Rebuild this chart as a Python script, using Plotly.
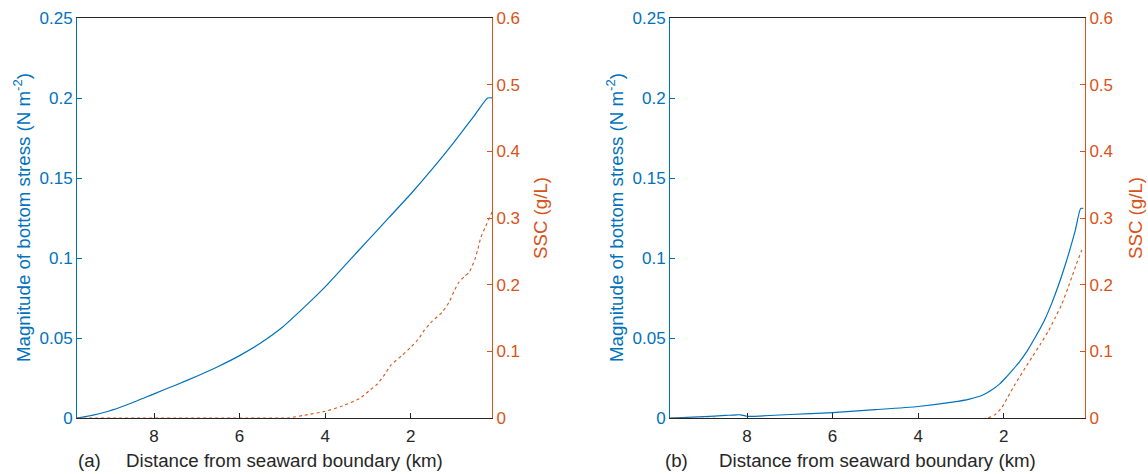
import plotly.graph_objects as go

# ---------------- data ----------------
# Panel (a)
xa_stress = [9.8, 9.45, 9.07, 8.63, 8.0, 7.5, 6.96, 6.5, 6.0, 5.5, 5.0, 4.5, 4.0, 3.5, 3.0, 2.5, 2.0, 1.5, 1.0, 0.5,
             0.2, 0.08]
ya_stress = [0.0, 0.0016, 0.0042, 0.0083, 0.0151, 0.0205, 0.0266, 0.0322, 0.0390, 0.0470, 0.0567, 0.0690, 0.0820,
             0.0965, 0.1110, 0.1255, 0.1400, 0.1555, 0.1720, 0.1895, 0.2000, 0.2000]
xa_ssc = [9.8, 5.0, 4.88, 4.5, 4.0, 3.6, 3.2, 2.95, 2.78, 2.6, 2.47, 2.2, 2.0, 1.8, 1.69, 1.5, 1.26, 1.1, 0.98,
          0.87, 0.75, 0.63, 0.5, 0.44, 0.36, 0.25, 0.12, 0.08]
ya_ssc = [0.0, 0.0, 0.0, 0.004, 0.010, 0.018, 0.029, 0.042, 0.051, 0.066, 0.079, 0.094, 0.106, 0.120, 0.131,
          0.145, 0.159, 0.174, 0.191, 0.204, 0.212, 0.219, 0.238, 0.251, 0.271, 0.287, 0.306, 0.312]

# Panel (b)
xb_stress = [9.79, 9.0, 8.5, 8.25, 8.15, 8.0, 7.0, 6.0, 5.0, 4.0, 3.2, 2.8, 2.5, 2.31, 2.1, 1.96, 1.8, 1.65,
             1.45, 1.26, 1.05, 0.88, 0.7, 0.57, 0.45, 0.33, 0.2, 0.14]
yb_stress = [0.0, 0.0008, 0.0016, 0.0020, 0.0020, 0.0011, 0.0022, 0.0034, 0.0052, 0.0072, 0.0099, 0.0118, 0.0142,
             0.0170, 0.0212, 0.0250, 0.0298, 0.0345, 0.0420, 0.0506, 0.0610, 0.0715, 0.0845, 0.0950, 0.1055, 0.117,
             0.131, 0.131]
xb_ssc = [9.79, 2.39, 2.2, 2.04, 1.9, 1.73, 1.5, 1.34, 1.15, 0.95, 0.8, 0.64, 0.5, 0.41, 0.3, 0.18, 0.14]
yb_ssc = [0.0, 0.0, 0.005, 0.016, 0.032, 0.051, 0.075, 0.091, 0.110, 0.131, 0.150, 0.171, 0.195, 0.211, 0.231,
          0.251, 0.256]

x_ticks = [8, 6, 4, 2]
stress_ticks = [0, 0.05, 0.1, 0.15, 0.2, 0.25]
ssc_ticks = [0, 0.1, 0.2, 0.3, 0.4, 0.5, 0.6]

# ---------------- style ----------------
BLUE = "#0072BD"
ORANGE = "#D95319"
DARK = "#262626"
FONT = "Liberation Sans, Arial, Helvetica, sans-serif"
W, H = 1148, 474
TOP, BOT = 18, 56
TICK_SIZE = 17
TITLE_SIZE = 18.7

fig = go.Figure()
fig.add_trace(go.Scatter(x=xa_stress, y=ya_stress, mode="lines",
                         line=dict(color=BLUE, width=1.2, shape="spline", smoothing=0.6),
                         xaxis="x", yaxis="y", showlegend=False))
fig.add_trace(go.Scatter(x=xa_ssc, y=ya_ssc, mode="lines",
                         line=dict(color=ORANGE, width=1.1, dash="dot", shape="spline", smoothing=0.5),
                         xaxis="x", yaxis="y2", showlegend=False))
fig.add_trace(go.Scatter(x=xb_stress, y=yb_stress, mode="lines",
                         line=dict(color=BLUE, width=1.2, shape="spline", smoothing=0.6),
                         xaxis="x2", yaxis="y3", showlegend=False))
fig.add_trace(go.Scatter(x=xb_ssc, y=yb_ssc, mode="lines",
                         line=dict(color=ORANGE, width=1.1, dash="dot", shape="spline", smoothing=0.5),
                         xaxis="x2", yaxis="y4", showlegend=False))

dom_a = [77 / W, 492 / W]
dom_b = [670 / W, 1085 / W]

def xax(dom, anchor):
    return dict(domain=dom, anchor=anchor, range=[9.8, 0.1], tickvals=x_ticks,
                showline=True, mirror=True, linecolor=DARK, linewidth=1,
                ticks="inside", ticklen=5, tickcolor=DARK, showgrid=False, zeroline=False,
                ticklabelstandoff=3,
                tickfont=dict(family=FONT, size=TICK_SIZE, color=DARK))

def yl(anchor):
    return dict(anchor=anchor, range=[0, 0.25], tickvals=stress_ticks,
                ticktext=["0", "0.05", "0.1", "0.15", "0.2", "0.25"],
                showline=True, linecolor=BLUE, linewidth=1, ticks="inside", ticklen=5, tickcolor=BLUE,
                showgrid=False, zeroline=False, tickfont=dict(family=FONT, size=TICK_SIZE, color=BLUE))

def yr(anchor, over):
    return dict(anchor=anchor, overlaying=over, side="right", range=[0, 0.6], tickvals=ssc_ticks,
                ticktext=["0", "0.1", "0.2", "0.3", "0.4", "0.5", "0.6"],
                showline=True, linecolor=ORANGE, linewidth=1, ticks="inside", ticklen=5, tickcolor=ORANGE,
                showgrid=False, zeroline=False, tickfont=dict(family=FONT, size=TICK_SIZE, color=ORANGE))

fig.update_layout(
    width=W, height=H,
    margin=dict(l=0, r=0, t=TOP, b=BOT),
    paper_bgcolor="white", plot_bgcolor="white",
    xaxis=xax(dom_a, "y"),
    yaxis=yl("x"),
    yaxis2=yr("x", "y"),
    xaxis2=xax(dom_b, "y3"),
    yaxis3=yl("x2"),
    yaxis4=yr("x2", "y3"),
    font=dict(family=FONT),
)

ph = H - TOP - BOT
def py(pix):
    return (H - BOT - pix) / ph

ann = []
# x titles and panel letters
for cx, lx, letter in [(284.5, 89, "(a)"), (877.5, 676, "(b)")]:
    ann.append(dict(x=cx / W, y=py(460), xref="paper", yref="paper", text="Distance from seaward boundary (km)",
                    showarrow=False, xanchor="center", yanchor="middle",
                    font=dict(family=FONT, size=TITLE_SIZE, color=DARK)))
    ann.append(dict(x=lx / W, y=py(460), xref="paper", yref="paper", text=letter,
                    showarrow=False, xanchor="center", yanchor="middle",
                    font=dict(family=FONT, size=TITLE_SIZE, color=DARK)))
# y titles
for lx in [22, 615]:
    ann.append(dict(x=lx / W, y=0.5, xref="paper", yref="paper",
                    text="Magnitude of bottom stress (N m<sup>-2</sup>)", textangle=-90,
                    showarrow=False, xanchor="center", yanchor="middle",
                    font=dict(family=FONT, size=TITLE_SIZE, color=BLUE)))
for rx in [540, 1135]:
    ann.append(dict(x=rx / W, y=0.5, xref="paper", yref="paper", text="SSC (g/L)", textangle=-90,
                    showarrow=False, xanchor="center", yanchor="middle",
                    font=dict(family=FONT, size=TITLE_SIZE, color=ORANGE)))
fig.update_layout(annotations=ann)

fig.write_html("out.html")
